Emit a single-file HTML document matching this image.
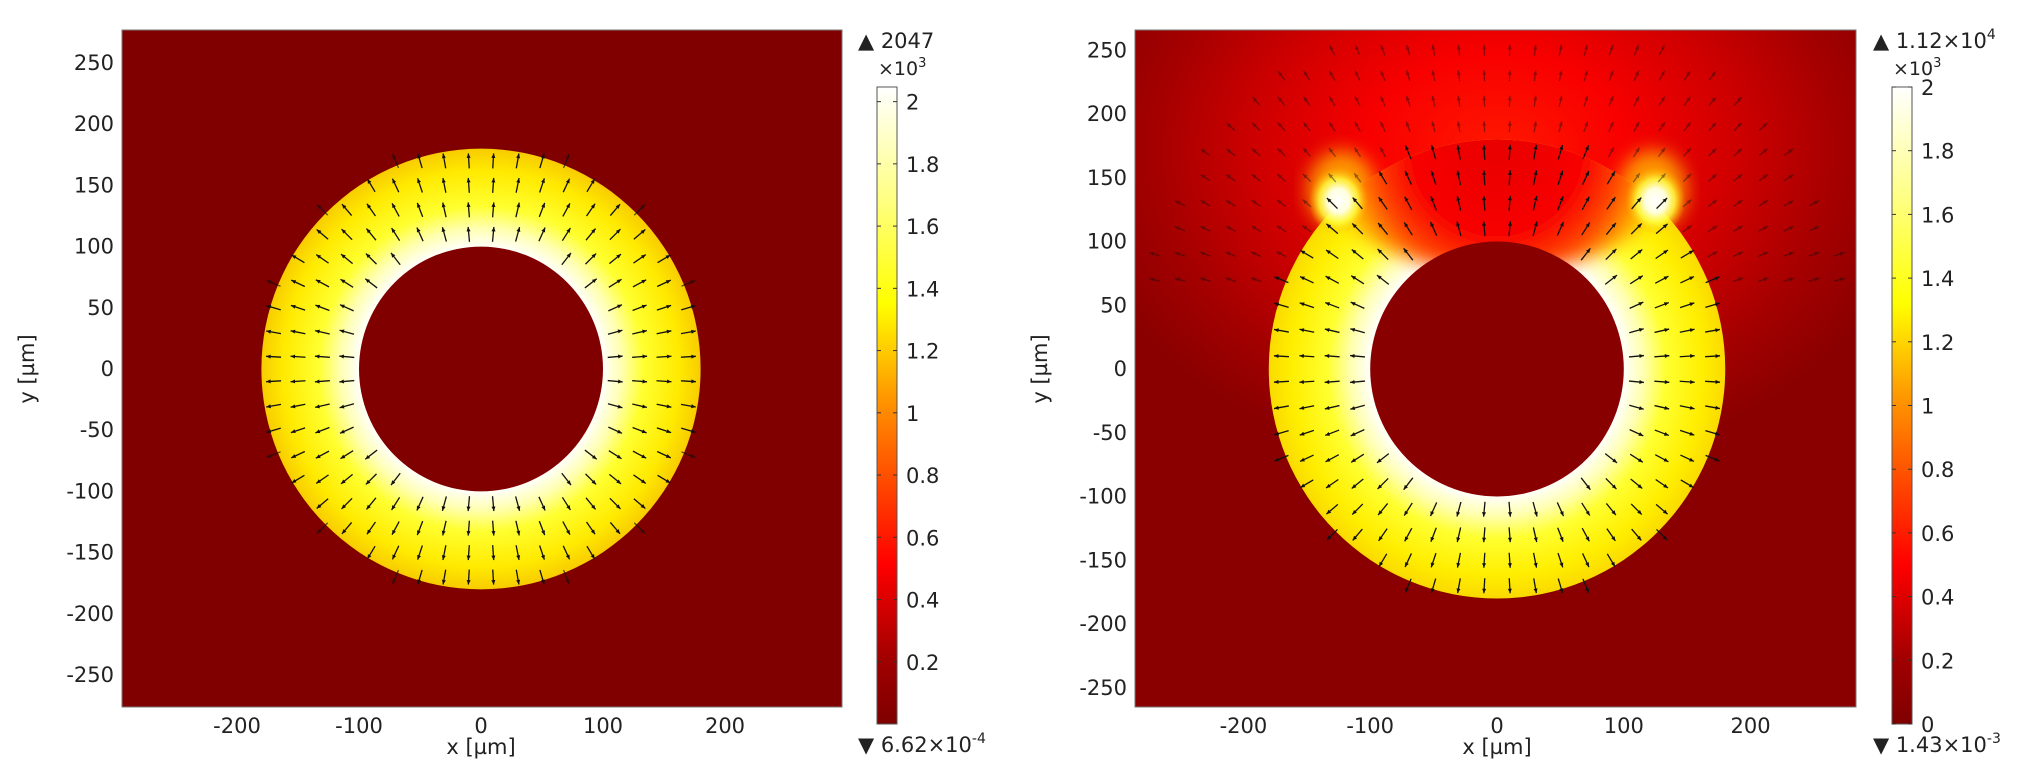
<!DOCTYPE html>
<html><head><meta charset="utf-8">
<style>
html,body{margin:0;padding:0;background:#fff;}
svg{display:block;}
text{font-family:"DejaVu Sans","Liberation Sans",sans-serif;fill:#222;}
</style></head>
<body>
<svg id="fig" width="2027" height="771" viewBox="0 0 2027 771" xmlns="http://www.w3.org/2000/svg">
<defs>
  <linearGradient id="cmap" x1="0" y1="1" x2="0" y2="0">
    <stop offset="0" stop-color="#7f0000"/>
    <stop offset="0.1" stop-color="#a00000"/>
    <stop offset="0.25" stop-color="#ff0000"/>
    <stop offset="0.42" stop-color="#ff6000"/>
    <stop offset="0.52" stop-color="#ff9c00"/>
    <stop offset="0.66" stop-color="#ffff00"/>
    <stop offset="0.82" stop-color="#ffff80"/>
    <stop offset="1" stop-color="#ffffff"/>
  </linearGradient>
  <radialGradient id="annL" gradientUnits="userSpaceOnUse" cx="481" cy="369" r="220">
    <stop offset="0.55" stop-color="#ffffff"/>
    <stop offset="0.64" stop-color="#ffffb0"/>
    <stop offset="0.74" stop-color="#ffff30"/>
    <stop offset="0.9" stop-color="#ffea00"/>
    <stop offset="1" stop-color="#f8cc00"/>
  </radialGradient>
  <radialGradient id="annR" gradientUnits="userSpaceOnUse" cx="1497" cy="369" r="229">
    <stop offset="0.55" stop-color="#ffffff"/>
    <stop offset="0.64" stop-color="#ffffb0"/>
    <stop offset="0.74" stop-color="#ffff30"/>
    <stop offset="0.9" stop-color="#ffee00"/>
    <stop offset="1" stop-color="#fada00"/>
  </radialGradient>
  <radialGradient id="glowR" gradientUnits="userSpaceOnUse" cx="1497" cy="150" r="430" gradientTransform="translate(1497 150) scale(1 0.75) translate(-1497 -150)">
    <stop offset="0" stop-color="#ff1800"/>
    <stop offset="0.3" stop-color="#f80000"/>
    <stop offset="0.55" stop-color="#d00000"/>
    <stop offset="0.8" stop-color="#a40000"/>
    <stop offset="1" stop-color="#8a0000"/>
  </radialGradient>
  <radialGradient id="capR" gradientUnits="userSpaceOnUse" cx="1497" cy="150" r="175">
    <stop offset="0" stop-color="#e80000"/>
    <stop offset="0.5" stop-color="#f80000"/>
    <stop offset="0.72" stop-color="#ff4800"/>
    <stop offset="0.88" stop-color="#ffb000"/>
    <stop offset="1" stop-color="#ffff00"/>
  </radialGradient>
  <radialGradient id="spot">
    <stop offset="0" stop-color="#ffffff"/>
    <stop offset="0.35" stop-color="#ffffe0"/>
    <stop offset="0.65" stop-color="#ffff40" stop-opacity="0.8"/>
    <stop offset="1" stop-color="#ffb000" stop-opacity="0"/>
  </radialGradient>
  <filter id="blur6" x="-20%" y="-20%" width="140%" height="140%"><feGaussianBlur stdDeviation="9"/></filter>
  <clipPath id="clipL"><rect x="122" y="30" width="720" height="677"/></clipPath>
  <clipPath id="clipR"><rect x="1135" y="30" width="721" height="677"/></clipPath>
</defs>
<g id="layer"></g>
</svg>
<script>
// ---- data ----
const xTicksL = [-200, -100, 0, 100, 200];
const yTicksL = [250, 200, 150, 100, 50, 0, -50, -100, -150, -200, -250];
const xTicksR = [-200, -100, 0, 100, 200];
const yTicksR = [250, 200, 150, 100, 50, 0, -50, -100, -150, -200, -250];
const cbTicksL = [2, 1.8, 1.6, 1.4, 1.2, 1, 0.8, 0.6, 0.4, 0.2];
const cbTicksR = [2, 1.8, 1.6, 1.4, 1.2, 1, 0.8, 0.6, 0.4, 0.2, 0];
const cbRangeL = [0, 2.047];
const cbRangeR = [0, 2];
const radii = [100, 180];          // inner / outer radius, µm
const spotsR = [-125, 125];        // x of hot spots (µm)
const spotY = 132;
const arrowStep = 20;

const NS = 'http://www.w3.org/2000/svg';
const layer = document.getElementById('layer');
function mk(tag, attrs, parent) {
  const e = document.createElementNS(NS, tag);
  for (const k in attrs) e.setAttribute(k, attrs[k]);
  (parent || layer).appendChild(e);
  return e;
}
const L = {cx:481, cy:369, kx:1.22, ky:1.224, x0:122, x1:842, y0:30, y1:707};
const R = {cx:1497, cy:369, kx:1.268, ky:1.275, x0:1135, x1:1856, y0:30, y1:707};
const sx = (P, v) => P.cx + v * P.kx;
const sy = (P, v) => P.cy - v * P.ky;

// ---- LEFT PANEL ----
const gL = mk('g', {'clip-path':'url(#clipL)'});


const bgL = mk('rect', {x:L.x0, y:L.y0, width:L.x1-L.x0, height:L.y1-L.y0, fill:'#800000'}, gL);


const annL = mk('ellipse', {cx:sx(L,0), cy:sy(L,0), rx:radii[1]*L.kx, ry:radii[1]*L.ky, fill:'url(#annL)'}, gL);


const inL = mk('ellipse', {cx:sx(L,0), cy:sy(L,0), rx:radii[0]*L.kx, ry:radii[0]*L.ky, fill:'#800000'}, gL);



function arrow(P, g, x, y, ang, len, op) {
  const px = sx(P, x), py = sy(P, y);
  const dx = Math.cos(ang) * len, dy = -Math.sin(ang) * len;
  const x1 = px - dx/2, y1 = py - dy/2, x2 = px + dx/2, y2 = py + dy/2;
  const a = mk('g', {opacity: op}, g);
  
  
  mk('line', {x1:x1, y1:y1, x2:x2, y2:y2, stroke:'#111', 'stroke-width':1.3}, a);
  const ux = dx/len, uy = dy/len, h = 4.5;
  mk('polygon', {points:`${x2},${y2} ${x2-ux*h-uy*2},${y2-uy*h+ux*2} ${x2-ux*h+uy*2},${y2-uy*h-ux*2}`, fill:'#111'}, a);
}
const arrL = mk('g', {}, gL);


for (let x = -290; x <= 290; x += arrowStep) {
  for (let y = -270; y <= 270; y += arrowStep) {
    const r = Math.hypot(x, y);
    if (r > radii[0] + 4 && r < radii[1] + 6) arrow(L, arrL, x, y, Math.atan2(y, x), 15, r > radii[1] ? 0.7 : 1);
  }
}

// ---- RIGHT PANEL ----
const gR = mk('g', {'clip-path':'url(#clipR)'});


const bgR = mk('rect', {x:R.x0, y:R.y0, width:R.x1-R.x0, height:R.y1-R.y0, fill:'url(#glowR)'}, gR);


spotsR.forEach(xs => {
  const h = mk('ellipse', {cx:sx(R,xs*0.98), cy:sy(R,spotY+8), rx:34, ry:40, fill:'#ffb000', opacity:0.85, filter:'url(#blur6)'}, gR);
  
  
});
const clipOuter = mk('clipPath', {id:'clipOuter'}, document.querySelector('defs'));
mk('ellipse', {cx:sx(R,0), cy:sy(R,0), rx:radii[1]*R.kx, ry:radii[1]*R.ky}, clipOuter);
const annG = mk('g', {'clip-path':'url(#clipOuter)'}, gR);


mk('rect', {x:R.x0, y:R.y0, width:R.x1-R.x0, height:R.y1-R.y0, fill:'url(#annR)'}, annG);
const cap = mk('ellipse', {cx:sx(R,0), cy:sy(R,270), rx:200*R.kx, ry:195*R.ky, fill:'url(#capR)', filter:'url(#blur6)'}, annG);


spotsR.forEach(xs => {
  const s = mk('ellipse', {cx:sx(R,xs), cy:sy(R,spotY), rx:30, ry:34, fill:'url(#spot)'}, gR);
  
  
});
const inR = mk('ellipse', {cx:sx(R,0), cy:sy(R,0), rx:radii[0]*R.kx, ry:radii[0]*R.ky, fill:'#880000'}, gR);


const arrR = mk('g', {}, gR);


for (let x = -290; x <= 290; x += arrowStep) {
  for (let y = -270; y <= 270; y += arrowStep) {
    const r = Math.hypot(x, y);
    if (r <= radii[0] + 4) continue;
    if (r < radii[1] + 4) { arrow(R, arrR, x, y, Math.atan2(y, x), 15, 1); }
    else if (y > 60 && r < 290) { arrow(R, arrR, x, y, Math.atan2(y, x), 11, 0.45); }
  }
}

// ---- axes ----
function axes(P, xT, yT, side) {
  const g = mk('g', {});
  
  
  mk('rect', {x:P.x0, y:P.y0, width:P.x1-P.x0, height:P.y1-P.y0, fill:'none', stroke:'#777', 'stroke-width':1}, g);
  xT.forEach(v => {
    const t = mk('text', {x:sx(P,v), y:733, 'font-size':21, 'text-anchor':'middle'}, g);
    t.textContent = v;
    
    
  });
  yT.forEach(v => {
    const t = mk('text', {x:P.x0 - 8, y:sy(P,v) + 7, 'font-size':21, 'text-anchor':'end'}, g);
    t.textContent = v;
    
    
  });
  const xl = mk('text', {x:sx(P,0), y:754, 'font-size':21, 'text-anchor':'middle'}, g);
  xl.textContent = 'x [µm]';
  
  
  const yx = P.x0 - 88;
  const yl = mk('text', {x:yx, y:P.cy, 'font-size':21, 'text-anchor':'middle', transform:`rotate(-90 ${yx} ${P.cy})`}, g);
  yl.textContent = 'y [µm]';
  
  
}
axes(L, xTicksL, yTicksL, 'left');
axes(R, xTicksR, yTicksR, 'right');

// ---- colorbars ----
function colorbar(x, ticks, range, maxTxt, maxExp, minTxt, minExp, side) {
  const top = 87, bot = 724, w = 20;
  const g = mk('g', {});
  
  
  mk('rect', {x:x, y:top, width:w, height:bot-top, fill:'url(#cmap)', stroke:'#555', 'stroke-width':1}, g);
  const cy = v => bot - (v - range[0]) / (range[1] - range[0]) * (bot - top);
  ticks.forEach(v => {
    const y = cy(v);
    mk('line', {x1:x, y1:y, x2:x+4, y2:y, stroke:'#333'}, g);
    mk('line', {x1:x+w-4, y1:y, x2:x+w, y2:y, stroke:'#333'}, g);
    const t = mk('text', {x:x+w+9, y:y+8, 'font-size':21}, g);
    t.textContent = v;
    
    
  });
  const mx = mk('text', {x:x-19, y:48, 'font-size':21}, g);
  mx.innerHTML = '▲ ' + maxTxt + (maxExp ? '<tspan dy="-9" font-size="14">' + maxExp + '</tspan>' : '');
  
  
  const sc = mk('text', {x:x+1, y:75, 'font-size':19}, g);
  sc.innerHTML = '×10<tspan dy="-8" font-size="13">3</tspan>';
  
  
  const mn = mk('text', {x:x-19, y:752, 'font-size':21}, g);
  mn.innerHTML = '▼ ' + minTxt + '<tspan dy="-9" font-size="14">' + minExp + '</tspan>';
  
  
}
colorbar(877, cbTicksL, cbRangeL, '2047', '', '6.62×10', '-4', 'left');
colorbar(1892, cbTicksR, cbRangeR, '1.12×10', '4', '1.43×10', '-3', 'right');
</script>
</body></html>
